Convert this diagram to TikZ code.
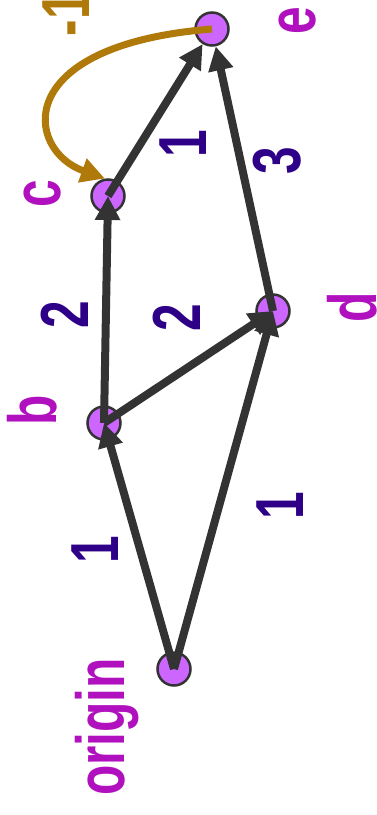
\documentclass[tikz,border=0pt]{standalone}
\usepackage{fontspec}
\setmainfont{Liberation Sans}
\usetikzlibrary{arrows.meta}
\definecolor{vfill}{HTML}{CC66FF}
\definecolor{edgegray}{HTML}{333333}
\definecolor{vlab}{HTML}{B010BE}
\definecolor{wlab}{HTML}{2E0088}
\definecolor{negcol}{HTML}{B07A0A}
\begin{document}
\begin{tikzpicture}[x=1pt, y=-1pt,
		v/.style={circle, draw=edgegray, line width=2.5pt, fill=vfill, minimum size=33pt, inner sep=0},
		lbl/.style={rotate=90, xscale=0.73, inner sep=0, font=\fontsize{68}{70}\selectfont\bfseries},
		vl/.style={lbl, text=vlab},
		wl/.style={lbl, text=wlab},
		w/.style={draw=edgegray, line width=8pt, -{Triangle[length=24pt, width=24pt]}},
		neg/.style={draw=negcol, line width=7pt, -{Triangle[length=24pt, width=24pt]}}]
	\useasboundingbox (0,0) rectangle (376,815);
	% vertices
	\node[v] (o) at (174,669) {};
	\node[v] (b) at (104,423) {};
	\node[v] (d) at (273,311) {};
	\node[v] (c) at (108,196) {};
	\node[v] (e) at (212,29) {};
	\node[vl] (ol) at (107,727) {origin};
	\node[vl] (bl) at (32,410) {b};
	\node[vl] (dl) at (352,307) {d};
	\node[vl] (cl) at (43,194) {c};
	\node[vl] (el) at (298,21) {e};
	% weighted edges
	\draw[w] (o.center) -- (b.center);
	\draw[w] (o.center) -- (d.center);
	\draw[w] (b.center) -- (d.center);
	\draw[w] (b.center) -- (c.center);
	\draw[w] (c.center) -- (e);
	\draw[w] (d.center) -- (e);
	\draw[neg] (e.center) .. controls (10,45) and (25,150) .. (c.100);
	\node[wl] (w1) at (95,550) {1};
	\node[wl] (w2) at (280,506) {1};
	\node[wl] (w3) at (65,315) {2};
	\node[wl] (w4) at (177,318) {2};
	\node[wl] (w5) at (183,144) {1};
	\node[wl] (w6) at (277,161) {3};
	\node[text=negcol, lbl] (w7) at (66,14) {-1};
\end{tikzpicture}
\end{document}
